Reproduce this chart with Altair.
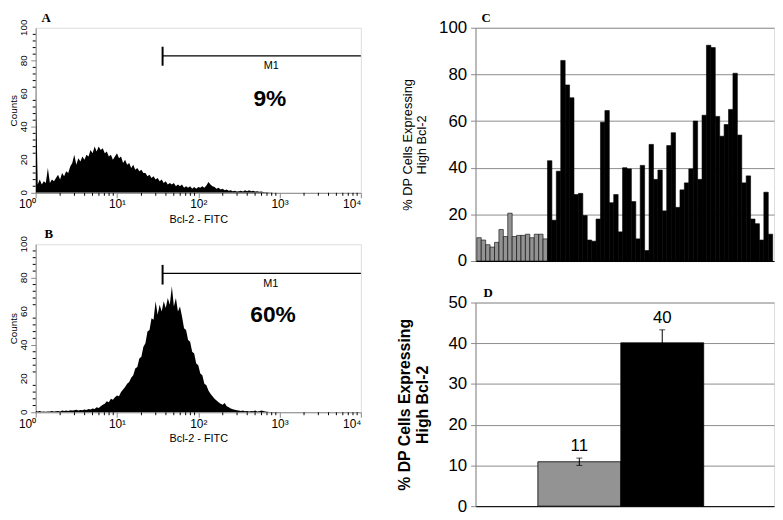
import altair as alt
import pandas as pd

SANS = "Liberation Sans"
SERIF = "Liberation Serif"

# ---------------- Panels A and B: flow cytometry histograms ----------------
# channel positions (log10 of Bcl-2 FITC fluorescence) and counts
HIST_LOG = [round(i * 0.025, 3) for i in range(121)]
A_COUNTS = [68, 5, 8, 5, 7, 6, 15, 6, 8, 7,
            9, 11, 8, 12, 10, 13, 12, 16, 18, 23,
            17, 21, 19, 22, 20, 23, 22, 26, 24, 28,
            25, 28, 26, 27, 24, 25, 22, 23, 20, 22,
            24, 21, 22, 18, 20, 17, 18, 15, 17, 14,
            15, 13, 14, 12, 12, 10, 11, 9, 10, 8,
            9, 7, 8, 6, 7, 5, 6, 5, 6, 4,
            5, 4, 5, 3, 4, 3, 4, 2.5, 3.5, 2.5,
            3.5, 3, 4, 3, 4.5, 6.5, 5, 4, 3.5, 2.5,
            3, 2, 2.5, 1.5, 2, 1.2, 1.5, 1, 1.2, 0.8,
            1, 1.3, 0.8, 1.5, 1, 1.5, 1, 1.2, 0.8, 1,
            0.7, 0.8, 0.5, 0.4, 0.3, 0.2, 0.2, 0.1, 0.1, 0.1,
            0]
B_COUNTS = [0.8, 0.5, 0.8, 0.3, 0.5, 0.3, 0.5, 0.4, 0.8, 0.5,
            0.6, 0.8, 0.5, 1, 0.8, 1, 0.7, 1.2, 1, 1.2,
            1.5, 1, 1.4, 1.2, 1.6, 1.3, 2, 1.6, 2.2, 2,
            3, 2.5, 3.5, 4.5, 5, 6.5, 6, 8, 7.5, 9,
            10, 9.5, 12, 13.5, 15, 17, 18, 20.5, 22, 26,
            27, 32, 33, 39, 41, 48, 49, 56, 55, 66,
            58, 64, 60, 66, 62, 68, 64, 75, 63, 68,
            60, 63, 57, 50, 49, 43, 42, 36, 35, 29,
            28, 23, 22, 17, 16, 13, 11, 9.5, 8, 7,
            6, 5, 4.5, 5.5, 3.5, 3, 2.2, 1.8, 1.5, 1.2,
            1, 0.8, 1, 0.6, 0.8, 0.5, 0.8, 0.6, 1, 0.5,
            0.6, 1, 0.8, 0.4, 0.3, 0.2, 0.2, 0.1, 0.1, 0.1,
            0]

X_TICKS = [1, 10, 100, 1000, 10000]
X_TICK_TEXT = ["10\u2070", "10\u00b9", "10\u00b2", "10\u00b3", "10\u2074"]
X_MINOR = [m * 10 ** d for d in range(4) for m in range(2, 10)]
Y_TICKS = [0, 20, 40, 60, 80, 100]
Y_MINOR = [v for v in range(4, 100, 4) if v % 20]

# M1 marker region and percentages
M1_START = 36.4
M1_END = 10000
A_M1 = dict(level=83, lo=77, hi=88.5, lx=790, ly=77, pct="9%", px=760, py=56.5)
B_M1 = dict(level=82.7, lo=76, hi=87.7, lx=780, ly=76.5, pct="60%", px=830, py=58)

# ---------------- Panel C: individual samples ----------------
C_GRAY = [10, 9, 7, 6, 8, 13.5, 10.5, 20.5, 10.5, 11, 11, 11.5, 10, 11.5, 11.5, 9.5]
C_BLACK = [43, 17.5, 38.5, 86, 75.5, 70, 28.5, 29, 19.5, 9, 8.5, 18, 59.5, 64.5, 25,
           28.5, 12.5, 40, 39.5, 25.5, 9.5, 41, 4.5, 50, 35, 39, 21.5, 49.5, 55, 23,
           30.5, 33.5, 39.5, 60, 35, 62.5, 92.5, 91.5, 62, 53.5, 58.5, 65, 80.5, 54,
           33.5, 36.5, 18, 16, 9, 29.5, 11.5]

# ---------------- Panel D: means ----------------
D_GROUPS = ["gray", "black"]
D_MEAN = [10.9, 40.1]
D_ERR = [0.9, 3.2]
D_LABELS = ["11", "40"]

Y_TITLE = ["% DP Cells Expressing", "High Bcl-2"]

label_expr = " : ".join(
    [f"datum.value == {v} ? '{t}'" for v, t in zip(X_TICKS[:-1], X_TICK_TEXT[:-1])]
) + f" : '{X_TICK_TEXT[-1]}'"


def panel_letter(letter, dx):
    return alt.Chart(pd.DataFrame({"t": [letter]})).mark_text(
        font=SERIF, fontSize=13, fontWeight="bold", align="left", baseline="top",
        color="black").encode(x=alt.value(dx), y=alt.value(-16), text="t:N")


def hist_panel(counts, letter, letter_x, m1, width, height):
    df = pd.DataFrame({"fl": [10 ** v for v in HIST_LOG], "count": counts})
    xscale = alt.Scale(type="log", domain=[1, 10000], nice=False)
    yscale = alt.Scale(domain=[0, 100], nice=False)
    xaxis = alt.Axis(values=X_TICKS, labelExpr=label_expr, labelFont=SANS, labelFontSize=12,
                     labelAlign={"condition": {"test": "datum.value <= 1 || datum.value >= 10000",
                                               "value": "right"}, "value": "center"},
                     labelFlush=False, labelOverlap=False, labelPadding=1, tickSize=5,
                     grid=False, title="Bcl-2 - FITC", titleFont=SANS, titleFontSize=11,
                     titleFontWeight="normal", titlePadding=4)
    yaxis = alt.Axis(values=Y_TICKS, labels=False, tickSize=5, grid=False,
                     title="Counts", titleFont=SANS, titleFontSize=10,
                     titleFontWeight="normal", titlePadding=12)
    area = alt.Chart(df).mark_area(color="black", clip=True, interpolate="linear").encode(
        x=alt.X("fl:Q", scale=xscale, axis=xaxis),
        y=alt.Y("count:Q", scale=yscale, axis=yaxis))
    # vertical tick labels of the Counts axis
    ylabels = alt.Chart(pd.DataFrame({"tick": Y_TICKS})).mark_text(
        font=SANS, fontSize=10, angle=270, align="center", baseline="bottom",
        color="black").encode(y="tick:Q", x=alt.value(-7), text="tick:Q")
    xminor = alt.Chart(pd.DataFrame({"m": X_MINOR})).mark_rule(color="black").encode(
        x="m:Q", y=alt.value(height), y2=alt.value(height + 3))
    yminor = alt.Chart(pd.DataFrame({"m": Y_MINOR})).mark_rule(color="black").encode(
        y="m:Q", x=alt.value(0), x2=alt.value(-3))
    mdf = pd.DataFrame({"x1": [M1_START], "x2": [M1_END], "lvl": [m1["level"]],
                        "lo": [m1["lo"]], "hi": [m1["hi"]], "lx": [m1["lx"]], "ly": [m1["ly"]],
                        "t": ["M1"], "px": [m1["px"]], "py": [m1["py"]], "pct": [m1["pct"]]})
    hline = alt.Chart(mdf).mark_rule(color="black", strokeWidth=1.2).encode(
        x="x1:Q", x2="x2:Q", y="lvl:Q")
    vline = alt.Chart(mdf).mark_rule(color="black", strokeWidth=2).encode(
        x="x1:Q", y="lo:Q", y2="hi:Q")
    mlabel = alt.Chart(mdf).mark_text(font=SANS, fontSize=11, color="black").encode(
        x="lx:Q", y="ly:Q", text="t:N")
    pct = alt.Chart(mdf).mark_text(font=SANS, fontSize=23, fontWeight="bold", color="black").encode(
        x="px:Q", y="py:Q", text="pct:N")
    let = panel_letter(letter, letter_x)
    return alt.layer(area, ylabels, xminor, yminor, hline, vline, mlabel, pct, let).properties(
        width=width, height=height)


panel_a = hist_panel(A_COUNTS, "A", 6, A_M1, 329, 167)
panel_b = hist_panel(B_COUNTS, "B", 9, B_M1, 329, 170)

# Panel C
cdf = pd.DataFrame({"i": list(range(len(C_GRAY) + len(C_BLACK))),
                    "v": C_GRAY + C_BLACK,
                    "g": ["gray"] * len(C_GRAY) + ["black"] * len(C_BLACK)})
color_scale = alt.Scale(domain=["gray", "black"], range=["#939393", "#000000"])
c_bars = alt.Chart(cdf).mark_bar(stroke="black", strokeWidth=0.6).encode(
    x=alt.X("i:O", scale=alt.Scale(paddingInner=0, paddingOuter=0.3),
            axis=alt.Axis(labels=False, ticks=False, title=None, domainColor="black")),
    y=alt.Y("v:Q", scale=alt.Scale(domain=[0, 100], nice=False),
            axis=alt.Axis(values=[0, 20, 40, 60, 80, 100], grid=True, gridColor="#8c8c8c",
                          tickColor="#8c8c8c", tickSize=5, labelFont=SANS, labelFontSize=17,
                          labelPadding=4, title=Y_TITLE, titleFont=SANS, titleFontSize=13,
                          titleFontWeight="normal", titleLineHeight=14, titlePadding=10)),
    color=alt.Color("g:N", scale=color_scale, legend=None))
panel_c = alt.layer(c_bars, panel_letter("C", 6)).properties(width=302, height=236)

# Panel D
ddf = pd.DataFrame({"g": D_GROUPS, "mean": D_MEAN,
                    "lo": [m - e for m, e in zip(D_MEAN, D_ERR)],
                    "hi": [m + e for m, e in zip(D_MEAN, D_ERR)],
                    "lbl": D_LABELS})
xd = alt.X("g:N", sort=D_GROUPS,
           scale=alt.Scale(paddingInner=0, paddingOuter=0.8, align=0.47),
           axis=alt.Axis(labels=False, ticks=False, title=None, domainColor="black"))
d_bars = alt.Chart(ddf).mark_bar(stroke="black", strokeWidth=0.8).encode(
    x=xd,
    y=alt.Y("mean:Q", scale=alt.Scale(domain=[0, 50], nice=False),
            axis=alt.Axis(values=[0, 10, 20, 30, 40, 50], grid=True, gridColor="#8c8c8c",
                          tickColor="#8c8c8c", tickSize=5, labelFont=SANS, labelFontSize=17,
                          labelPadding=4, title=Y_TITLE, titleFont=SANS, titleFontSize=16,
                          titleFontWeight="bold", titleLineHeight=18, titlePadding=18)),
    color=alt.Color("g:N", scale=color_scale, legend=None))
d_err = alt.Chart(ddf).mark_rule(color="black").encode(x=xd, y="lo:Q", y2="hi:Q")
d_cap_hi = alt.Chart(ddf).mark_tick(color="black", size=6, thickness=1).encode(x=xd, y="hi:Q")
d_cap_lo = alt.Chart(ddf).mark_tick(color="black", size=6, thickness=1).encode(x=xd, y="lo:Q")
d_text = alt.Chart(ddf).mark_text(font=SANS, fontSize=17, baseline="bottom", dy=-3,
                                  color="black").encode(x=xd, y="hi:Q", text="lbl:N")
panel_d = alt.layer(d_bars, d_err, d_cap_hi, d_cap_lo, d_text, panel_letter("D", 8)).properties(
    width=302, height=206)

left = alt.vconcat(panel_a, panel_b, spacing=52, bounds="flush")
right = alt.vconcat(panel_c, panel_d, spacing=42, bounds="flush")
chart = alt.hconcat(left, right, spacing=33).properties(
    padding={"left": 0, "top": 0, "right": 0, "bottom": 0}
).configure_view(stroke="black", strokeWidth=1).configure_axis(
    labelColor="black", titleColor="black", domainColor="black", tickColor="black"
).configure(font=SANS)

chart.save("out.html", embed_options={"renderer": "svg", "actions": False})
